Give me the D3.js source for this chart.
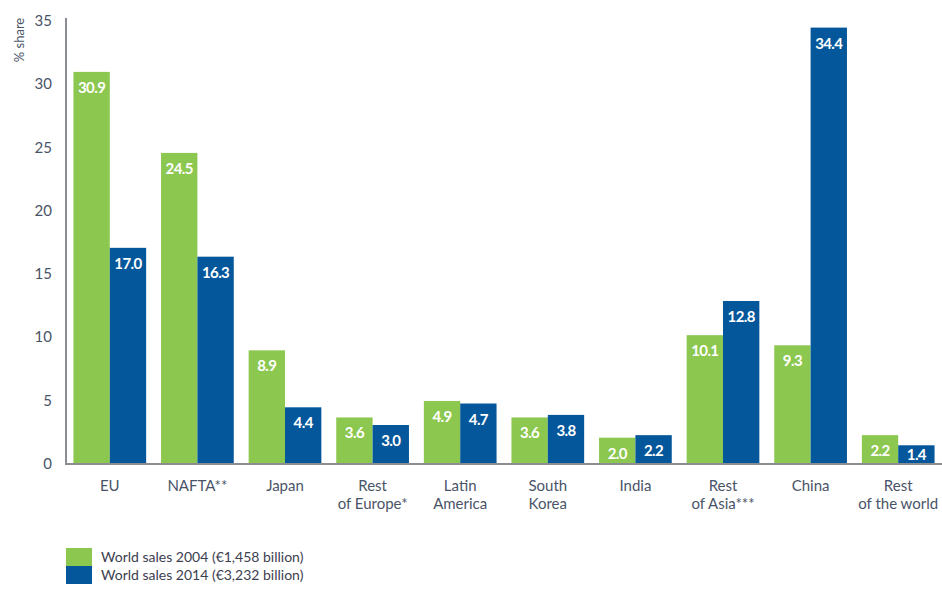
<!DOCTYPE html>
<html>
<head>
<meta charset="utf-8">
<script src="https://cdn.jsdelivr.net/npm/d3@7"></script>
<style>
  html, body { margin: 0; padding: 0; background: #fff; }
  svg { display: block; }
  text { font-family: Lato, "Open Sans", sans-serif; }
</style>
</head>
<body>
<svg id="chart" width="942" height="596"></svg>
<script>
const categories = [
  ["EU"], ["NAFTA**"], ["Japan"], ["Rest", "of Europe*"], ["Latin", "America"],
  ["South", "Korea"], ["India"], ["Rest", "of Asia***"], ["China"], ["Rest", "of the world"]
];
const sales2004 = [30.9, 24.5, 8.9, 3.6, 4.9, 3.6, 2.0, 10.1, 9.3, 2.2];
const sales2014 = [17.0, 16.3, 4.4, 3.0, 4.7, 3.8, 2.2, 12.8, 34.4, 1.4];
const seriesNames = ["World sales 2004 (€1,458 billion)", "World sales 2014 (€3,232 billion)"];
const yTicks = [0, 5, 10, 15, 20, 25, 30, 35];
const yTitle = "% share";

const colors = ["#8cc74f", "#04579a"];
const textColor = "#4a5468";

const svg = d3.select("#chart");
const mLeft = 66, mRight = 942, mTop = 20, mBottom = 463;

const x = d3.scaleBand().domain(d3.range(categories.length)).range([mLeft, mRight])
  .paddingInner(0.17).paddingOuter(0.085);
const xs = d3.scaleBand().domain([0, 1]).range([0, x.bandwidth()]);
const y = d3.scaleLinear().domain([0, 35]).range([mBottom, mTop]);

const series = [sales2004, sales2014];

// bars
series.forEach((vals, si) => {
  const g = svg.append("g");
  g.selectAll("rect").data(vals).join("rect")
    .attr("x", (d, i) => x(i) + xs(si))
    .attr("y", d => y(d))
    .attr("width", xs.bandwidth())
    .attr("height", d => y(0) - y(d))
    .attr("fill", colors[si]);
  g.selectAll("text").data(vals).join("text")
    .attr("x", (d, i) => x(i) + xs(si) + xs.bandwidth() / 2)
    .attr("y", d => Math.min(y(d) + 21, mBottom - 3))
    .attr("text-anchor", "middle")
    .attr("fill", "#fff")
    .attr("font-weight", "bold")
    .attr("font-size", 15)
    .attr("letter-spacing", -0.6)
    .text(d => d.toFixed(1));
});

// axes
svg.append("line").attr("x1", mLeft).attr("x2", mLeft).attr("y1", y(35) - 2).attr("y2", mBottom + 1)
  .attr("stroke", "#8a8d92").attr("stroke-width", 2);
svg.append("line").attr("x1", mLeft - 1).attr("x2", mRight).attr("y1", mBottom + 1).attr("y2", mBottom + 1)
  .attr("stroke", "#8a8d92").attr("stroke-width", 2);

svg.append("g").selectAll("text").data(yTicks).join("text")
  .attr("x", 52).attr("y", d => y(d) + 6)
  .attr("text-anchor", "end")
  .attr("fill", textColor).attr("font-size", 15)
  .text(d => d);

svg.append("text")
  .attr("transform", `translate(24,40) rotate(-90)`)
  .attr("text-anchor", "middle")
  .attr("fill", textColor).attr("font-size", 13)
  .text(yTitle);

// x labels
const xl = svg.append("g");
categories.forEach((lines, i) => {
  const cx = x(i) + x.bandwidth() / 2;
  const t = xl.append("text")
    .attr("x", cx)
    .attr("y", 491)
    .attr("text-anchor", "middle")
    .attr("fill", textColor).attr("font-size", 15);
  lines.forEach((l, j) => {
    t.append("tspan").attr("x", cx).attr("dy", j === 0 ? 0 : 18).text(l);
  });
});

// legend
const lg = svg.append("g");
seriesNames.forEach((n, i) => {
  lg.append("rect").attr("x", 66).attr("y", 548 + i * 18).attr("width", 26).attr("height", 18)
    .attr("fill", colors[i]);
  lg.append("text").attr("x", 101).attr("y", 562 + i * 18)
    .attr("fill", "#3c4050").attr("font-size", 14).text(n);
});
</script>
</body>
</html>
